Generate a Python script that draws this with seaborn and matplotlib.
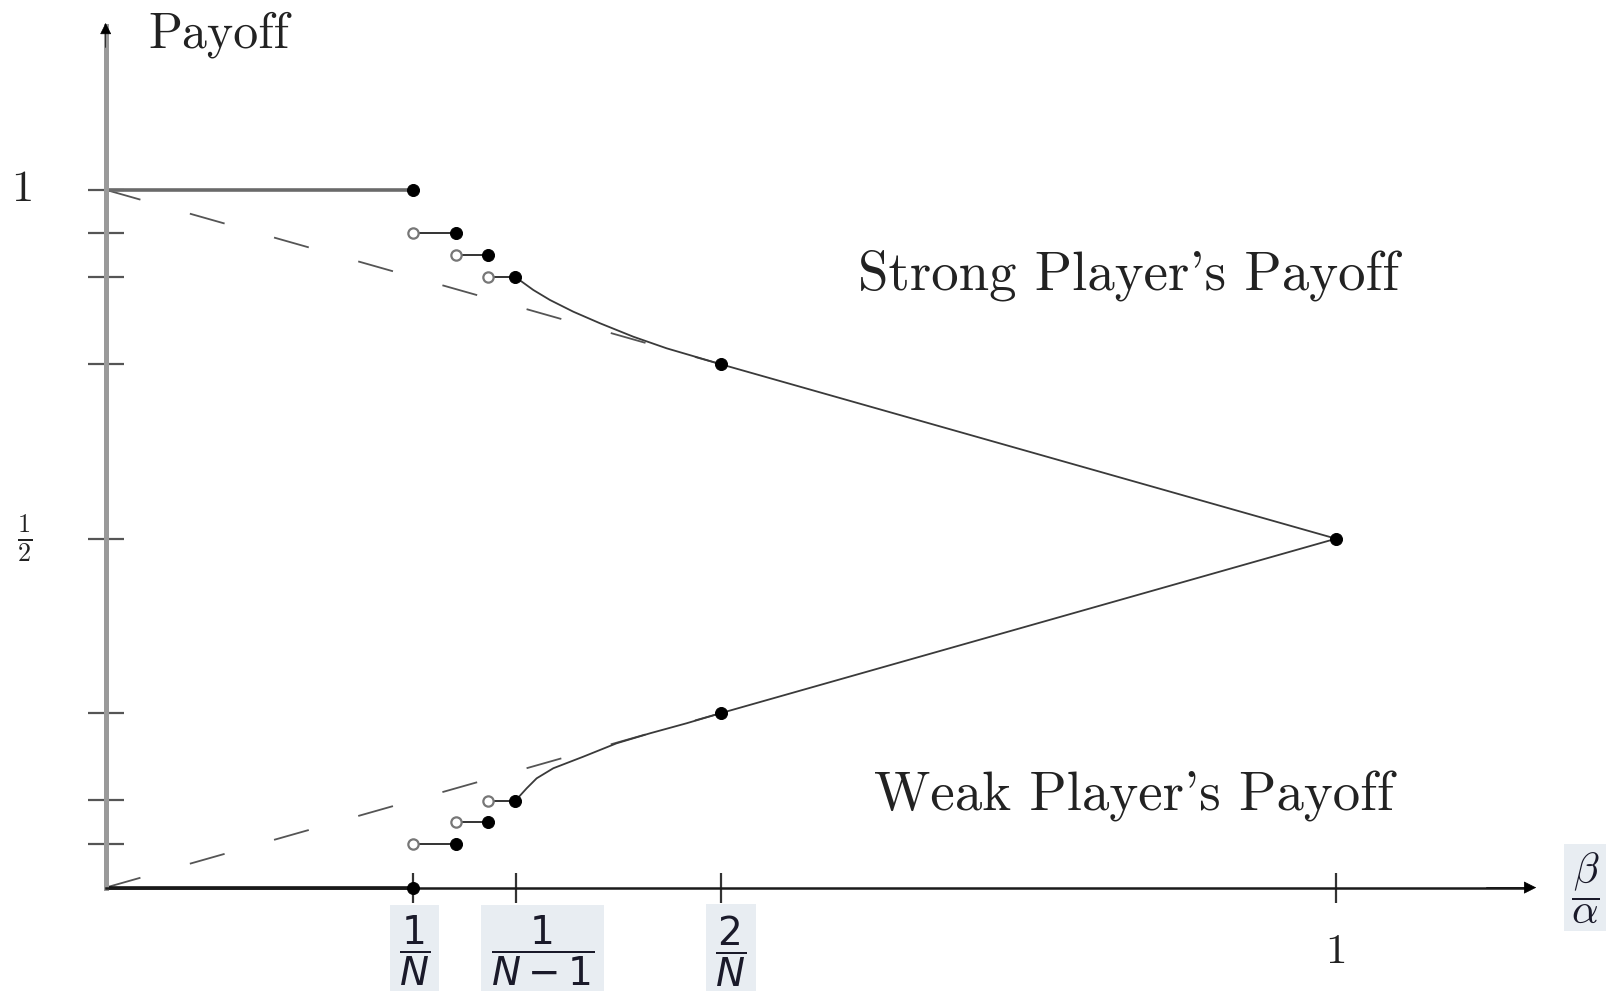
import numpy as np
import pandas as pd
import seaborn as sns
import matplotlib
matplotlib.use('Agg')
import matplotlib.pyplot as plt

sns.set_theme(style='white')
plt.rcParams['lines.scale_dashes'] = False
plt.rcParams['axes.formatter.use_mathtext'] = True

# ---------------- data ----------------
top_x = [0.0, 0.25]
top_y = [1.0, 1.0]

strong_step_left = [0.25, 0.285, 0.311]
strong_step_right = [0.285, 0.311, 0.333]
strong_step_y = [0.9375, 0.906, 0.875]
strong_curve_x = [0.333, 0.3476, 0.3611, 0.3801, 0.4018, 0.4288, 0.456, 0.4837, 0.5]
strong_curve_y = [0.875, 0.8564, 0.8421, 0.8253, 0.8087, 0.7895, 0.7728, 0.7585, 0.75]
strong_line_x = [0.5, 1.0]
strong_line_y = [0.75, 0.5]
strong_dash_x = [0.0, 0.5]
strong_dash_y = [1.0, 0.75]

bottom_x = [0.0, 0.25]
bottom_y = [0.0, 0.0]
weak_step_left = [0.25, 0.285, 0.311]
weak_step_right = [0.285, 0.311, 0.333]
weak_step_y = [0.0625, 0.094, 0.1245]
weak_curve_x = [0.333, 0.3422, 0.3503, 0.3638, 0.3882, 0.4153, 0.4424, 0.4722, 0.5]
weak_curve_y = [0.1245, 0.1423, 0.1566, 0.171, 0.1876, 0.2068, 0.2211, 0.2355, 0.25]
weak_line_x = [0.5, 1.0]
weak_line_y = [0.25, 0.5]
weak_dash_x = [0.0, 0.5]
weak_dash_y = [0.0, 0.25]

strong_filled_x = [0.25, 0.285, 0.311, 0.333, 0.5, 1.0]
strong_filled_y = [1.0, 0.9375, 0.906, 0.875, 0.75, 0.5]
weak_filled_x = [0.25, 0.285, 0.311, 0.333, 0.5]
weak_filled_y = [0.0, 0.0625, 0.094, 0.1245, 0.25]

ytick_vals = [0.0625, 0.125, 0.25, 0.5, 0.75, 0.875, 0.9375, 1.0]
ytick_labels = {1.0: '1', 0.5: r'$\frac{1}{2}$'}
xtick_vals = [0.25, 1/3, 0.5, 1.0]
xtick_labels = [r'$\dfrac{1}{N}$', r'$\dfrac{1}{N-1}$', r'$\dfrac{2}{N}$', '1']
xtick_label_x = [0.251, 0.355, 0.508, 1.0]

# ---------------- figure ----------------
fig = plt.figure(figsize=(16.09, 9.91), dpi=100)
ax = fig.add_axes([0, 0, 1, 1])
ax.set_xlim(-0.0859, 1.2219)
ax.set_ylim(-0.1482, 1.272)
ax.set_facecolor('white')
fig.patch.set_facecolor('white')

# axes as spines through the origin
for s in ['top', 'right']:
    ax.spines[s].set_visible(False)
ax.spines['left'].set_position(('data', 0))
ax.spines['bottom'].set_position(('data', 0))
ax.spines['left'].set_bounds(0, 1.235)
ax.spines['bottom'].set_bounds(0, 1.155)
ax.spines['left'].set_color('#9a9a9a')
ax.spines['left'].set_linewidth(3.6)
ax.spines['bottom'].set_color('#1a1a1a')
ax.spines['bottom'].set_linewidth(1.8)

ax.set_yticks(ytick_vals)
ax.set_yticklabels([''] * len(ytick_vals))
ax.set_xticks(xtick_vals)
ax.set_xticklabels([''] * len(xtick_vals))
ax.tick_params(axis='y', direction='inout', length=26, width=1.6, color='#555555', left=True)
ax.tick_params(axis='x', direction='inout', length=21, width=1.6, color='#333333', bottom=True)
ax.grid(False)

# arrow heads
ax.annotate('', xy=(0, 1.243), xytext=(0, 1.20),
            arrowprops=dict(arrowstyle='-|>', color='black', lw=0.5, mutation_scale=18))
ax.annotate('', xy=(1.165, 0), xytext=(1.12, 0),
            arrowprops=dict(arrowstyle='-|>', color='black', lw=0.5, mutation_scale=20))

def seg(x, y, **kw):
    sns.lineplot(x=x, y=y, ax=ax, estimator=None, sort=False, legend=False, **kw)

dash_kw = dict(color='#555555', lw=1.3, dashes=(26, 37))
seg(strong_dash_x, strong_dash_y, **dash_kw)
seg(weak_dash_x, weak_dash_y, **dash_kw)

seg(top_x, top_y, color='#6a6a6a', lw=2.6)
seg(bottom_x, bottom_y, color='#111111', lw=2.6)

line_kw = dict(color='#3a3a3a', lw=1.3)
for xl, xr, yv in zip(strong_step_left, strong_step_right, strong_step_y):
    seg([xl, xr], [yv, yv], color='#333333', lw=1.4)
for xl, xr, yv in zip(weak_step_left, weak_step_right, weak_step_y):
    seg([xl, xr], [yv, yv], color='#333333', lw=1.4)
seg(strong_curve_x, strong_curve_y, **line_kw)
seg(weak_curve_x, weak_curve_y, **line_kw)
seg(strong_line_x, strong_line_y, **line_kw)
seg(weak_line_x, weak_line_y, **line_kw)

# open circles (left end of each step)
sns.scatterplot(x=strong_step_left, y=strong_step_y, ax=ax, s=55, facecolor='white',
                edgecolor='#777777', linewidth=1.6, zorder=5, legend=False)
sns.scatterplot(x=weak_step_left, y=weak_step_y, ax=ax, s=55, facecolor='white',
                edgecolor='#777777', linewidth=1.6, zorder=5, legend=False)
# filled points
sns.scatterplot(x=strong_filled_x, y=strong_filled_y, ax=ax, s=75, color='black',
                edgecolor='black', zorder=6, legend=False)
sns.scatterplot(x=weak_filled_x, y=weak_filled_y, ax=ax, s=75, color='black',
                edgecolor='black', zorder=6, legend=False)

# ---------------- text ----------------
serif = 'cmr10'
ax.text(0.035, 1.222, 'Payoff', fontfamily=serif, fontsize=36, ha='left', va='center', color='#222222')
ax.text(0.6116, 0.878, "Strong Player's Payoff", fontfamily=serif, fontsize=39.5,
        ha='left', va='center', color='#222222')
ax.text(0.6245, 0.131, "Weak Player's Payoff", fontfamily=serif, fontsize=39.5,
        ha='left', va='center', color='#222222')

for v, lab in ytick_labels.items():
    if lab.startswith('$'):
        ax.text(-0.066, v, lab, fontsize=27, math_fontfamily='cm', ha='center', va='center',
                color='#222222')
    else:
        ax.text(-0.0675, v, lab, fontfamily=serif, fontsize=32, ha='center', va='center',
                color='#222222')

box = dict(boxstyle='square,pad=0.24', facecolor='#e8edf2', edgecolor='none')
for xv, lab in zip(xtick_label_x, xtick_labels):
    if lab.startswith('$'):
        ax.text(xv, -0.091, lab, fontsize=28, math_fontfamily='dejavusans', ha='center',
                va='center', color='#1a1a2a', bbox=box)
    else:
        ax.text(xv, -0.092, lab, fontfamily=serif, fontsize=31, ha='center', va='center',
                color='#222222')

ax.text(1.2024, 0.0, r'$\dfrac{\beta}{\alpha}$', fontsize=30, math_fontfamily='cm',
        ha='center', va='center', color='#1a1a2a',
        bbox=dict(boxstyle='square,pad=0.15', facecolor='#e8edf2', edgecolor='none'))

fig.savefig('out.png', dpi=100, facecolor='white')
